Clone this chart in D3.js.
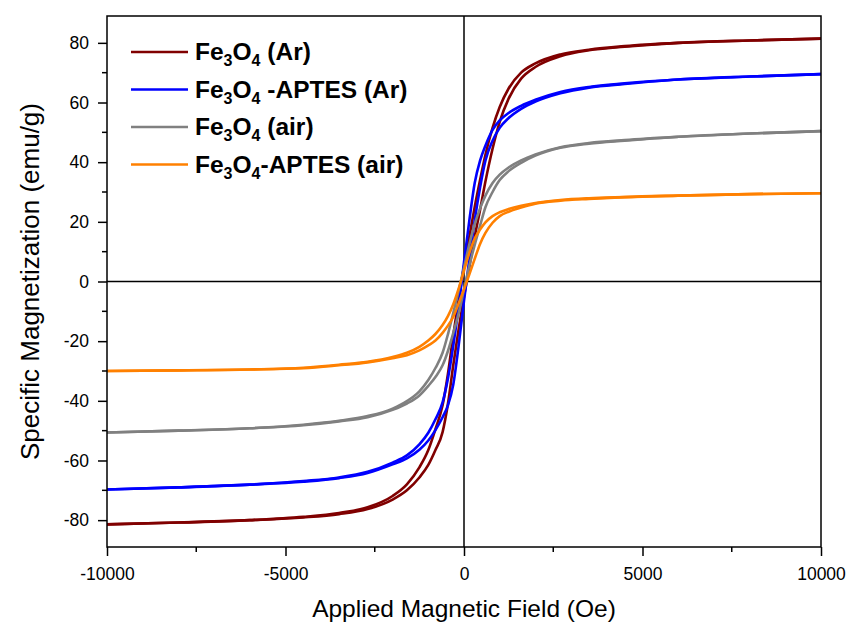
<!DOCTYPE html>
<html>
<head>
<meta charset="utf-8">
<script src="https://d3js.org/d3.v7.min.js"></script>
<style>
  body { margin: 0; background: #fff; }
  text { font-family: Arial, "Liberation Sans", sans-serif; fill: #000; }
</style>
</head>
<body>
<svg width="851" height="623"></svg>
<script>
  // applied field (Oe), shared by every branch
  const field = [-10000, -8000, -6000, -4500, -3500, -2700, -2000, -1600, -1250, -1000, -800, -600, -450, -300, -150,
                 0, 150, 300, 450, 600, 800, 1000, 1250, 1600, 2000, 2700, 3500, 4500, 6000, 8000, 10000];

  // Fe3O4 (Ar)
  const arDesc = [-81.4, -80.8, -80.0, -78.9, -77.6, -75.7, -71.9, -68.0, -62.3, -56.5, -49.5, -41.5, -31.0, -18.0, -6.0,
                  5.0, 15.0, 25.0, 34.0, 42.5, 51.5, 58.5, 64.7, 70.0, 73.1, 76.1, 77.7, 78.9, 80.0, 80.8, 81.4];
  const arAsc  = [-81.4, -80.8, -80.0, -79.1, -78.0, -76.3, -73.1, -70.0, -65.7, -61.5, -56.5, -50.5, -41.0, -28.0, -16.0,
                  -5.0, 5.0, 15.0, 24.0, 33.5, 44.5, 53.5, 61.3, 68.0, 71.9, 75.5, 77.5, 78.7, 80.0, 80.8, 81.4];

  // Fe3O4-APTES (Ar)
  const aptesArDesc = [-69.7, -69.0, -68.1, -66.9, -65.7, -63.8, -60.7, -58.3, -54.6, -50.7, -46.2, -40.5, -32.5, -21.5, -8.5,
                       6.5, 20.5, 33.0, 40.5, 45.5, 50.8, 54.0, 56.5, 58.9, 60.9, 63.5, 65.2, 66.4, 67.7, 68.7, 69.5];
  const aptesArAsc  = [-69.7, -69.0, -68.1, -67.1, -65.9, -64.2, -61.3, -59.3, -56.4, -53.3, -49.8, -45.5, -41.5, -34.5, -21.5,
                       -6.5, 7.5, 20.5, 31.5, 40.5, 47.2, 51.5, 54.8, 57.9, 60.3, 63.1, 65.0, 66.2, 67.7, 68.7, 69.5];

  // Fe3O4 (air)
  const airDesc = [-50.6, -50.0, -49.2, -48.0, -46.7, -45.1, -42.6, -40.1, -36.8, -33.0, -29.0, -23.9, -17.7, -10.5, -3.0,
                   4.7, 12.5, 19.2, 24.5, 28.8, 33.0, 35.8, 38.2, 40.6, 42.6, 45.0, 46.4, 47.4, 48.5, 49.6, 50.4];
  const airAsc  = [-50.6, -50.0, -49.2, -48.2, -46.9, -45.5, -43.0, -40.9, -38.2, -35.0, -32.0, -28.1, -23.3, -17.2, -10.7,
                   -2.7, 5.3, 12.3, 18.7, 24.9, 30.0, 34.0, 37.0, 39.8, 42.2, 44.8, 46.2, 47.2, 48.5, 49.6, 50.4];

  // Fe3O4-APTES (air)
  const aptesAirDesc = [-30.0, -29.8, -29.5, -28.9, -27.9, -26.9, -25.3, -23.9, -21.9, -19.8, -17.6, -14.6, -11.6, -7.6, -2.4,
                        3.6, 9.6, 14.4, 17.4, 19.8, 21.9, 23.2, 24.3, 25.4, 26.3, 27.3, 27.9, 28.3, 28.8, 29.3, 29.6];
  const aptesAirAsc  = [-30.0, -29.8, -29.5, -29.1, -28.1, -27.1, -25.7, -24.7, -23.1, -21.4, -19.8, -17.2, -14.8, -11.8, -7.4,
                        -2.6, 2.4, 7.6, 12.6, 16.3, 19.7, 21.9, 23.4, 24.8, 26.1, 27.1, 27.7, 28.3, 28.8, 29.3, 29.6];

  const seriesNames = ["Ar", "APTES (Ar)", "air", "APTES (air)"];
  const seriesColors = ["#800000", "#0000ff", "#808080", "#ff8000"];
  const seriesBranches = [[arDesc, arAsc], [aptesArDesc, aptesArAsc], [airDesc, airAsc], [aptesAirDesc, aptesAirAsc]];
  const legendRest = [" (Ar)", " -APTES (Ar)", " (air)", "-APTES (air)"];

  const xTicks = [-10000, -5000, 0, 5000, 10000];
  const xMinor = [-7500, -2500, 2500, 7500];
  const yTicks = [-80, -60, -40, -20, 0, 20, 40, 60, 80];
  const yMinor = [-70, -50, -30, -10, 10, 30, 50, 70];

  let svg = d3.select("svg"),
      pLeft = 107, pRight = 821, pTop = 16, pBottom = 547;

  let xScale = d3.scaleLinear().domain([-10000, 10000]).range([pLeft, pRight]);
  let yScale = d3.scaleLinear().domain([-89, 89]).range([pBottom, pTop]);

  // zero lines
  svg.append("line")
      .attr("x1", xScale(0)).attr("x2", xScale(0))
      .attr("y1", pTop).attr("y2", pBottom)
      .attr("stroke", "#000").attr("stroke-width", 1.5);
  svg.append("line")
      .attr("x1", pLeft).attr("x2", pRight)
      .attr("y1", yScale(0)).attr("y2", yScale(0))
      .attr("stroke", "#000").attr("stroke-width", 1.5);

  // loops
  let line = d3.line()
      .x(function (d) { return xScale(d[0]); })
      .y(function (d) { return yScale(d[1]); })
      .curve(d3.curveMonotoneX);

  seriesBranches.forEach(function (branches, i) {
    branches.forEach(function (vals) {
      svg.append("path")
          .attr("d", line(field.map(function (h, k) { return [h, vals[k]]; })))
          .attr("fill", "none")
          .attr("stroke", seriesColors[i])
          .attr("stroke-width", 2.6)
          .attr("stroke-linejoin", "round");
    });
  });

  // axes
  let plain = function (d) { return String(d); };
  let xAxis = d3.axisBottom(xScale).tickValues(xTicks).tickSize(9).tickPadding(12).tickFormat(plain);
  let yAxis = d3.axisLeft(yScale).tickValues(yTicks).tickSize(9).tickPadding(9).tickFormat(plain);

  let gx = svg.append("g").attr("transform", "translate(0," + pBottom + ")").call(xAxis);
  let gy = svg.append("g").attr("transform", "translate(" + pLeft + ",0)").call(yAxis);

  // minor ticks
  gx.selectAll(".minor").data(xMinor).enter().append("line")
      .attr("x1", function (d) { return xScale(d); }).attr("x2", function (d) { return xScale(d); })
      .attr("y1", 0).attr("y2", 5).attr("stroke", "#000").attr("stroke-width", 1.5);
  gy.selectAll(".minor").data(yMinor).enter().append("line")
      .attr("y1", function (d) { return yScale(d); }).attr("y2", function (d) { return yScale(d); })
      .attr("x1", 0).attr("x2", -5).attr("stroke", "#000").attr("stroke-width", 1.5);

  [gx, gy].forEach(function (g) {
    g.select(".domain").remove();
    g.selectAll(".tick line").attr("stroke-width", 1.5);
    g.selectAll(".tick text").style("font-size", "17.5px").style("font-family", "Arial, 'Liberation Sans', sans-serif");
  });

  // frame
  svg.append("rect")
      .attr("x", pLeft).attr("y", pTop)
      .attr("width", pRight - pLeft).attr("height", pBottom - pTop)
      .attr("fill", "none").attr("stroke", "#000").attr("stroke-width", 1.5);

  // axis titles
  svg.append("text")
      .attr("x", (pLeft + pRight) / 2).attr("y", 617)
      .attr("text-anchor", "middle")
      .style("font-size", "24.5px")
      .text("Applied Magnetic Field (Oe)");
  svg.append("text")
      .attr("transform", "translate(39," + ((pTop + pBottom) / 2) + ") rotate(-90)")
      .attr("text-anchor", "middle")
      .style("font-size", "26px")
      .text("Specific Magnetization (emu/g)");

  // legend
  let legend = svg.append("g");
  seriesNames.forEach(function (name, i) {
    let y = 52 + i * 37.5;
    legend.append("line")
        .attr("x1", 131).attr("x2", 188)
        .attr("y1", y).attr("y2", y)
        .attr("stroke", seriesColors[i]).attr("stroke-width", 2.6);
    let t = legend.append("text")
        .attr("x", 195).attr("y", y + 8)
        .style("font-size", "24.5px").style("font-weight", "bold");
    t.append("tspan").text("Fe");
    t.append("tspan").attr("dy", 6).style("font-size", "16px").text("3");
    t.append("tspan").attr("dy", -6).text("O");
    t.append("tspan").attr("dy", 6).style("font-size", "16px").text("4");
    t.append("tspan").attr("dy", -6).text(legendRest[i]);
  });
</script>
</body>
</html>
